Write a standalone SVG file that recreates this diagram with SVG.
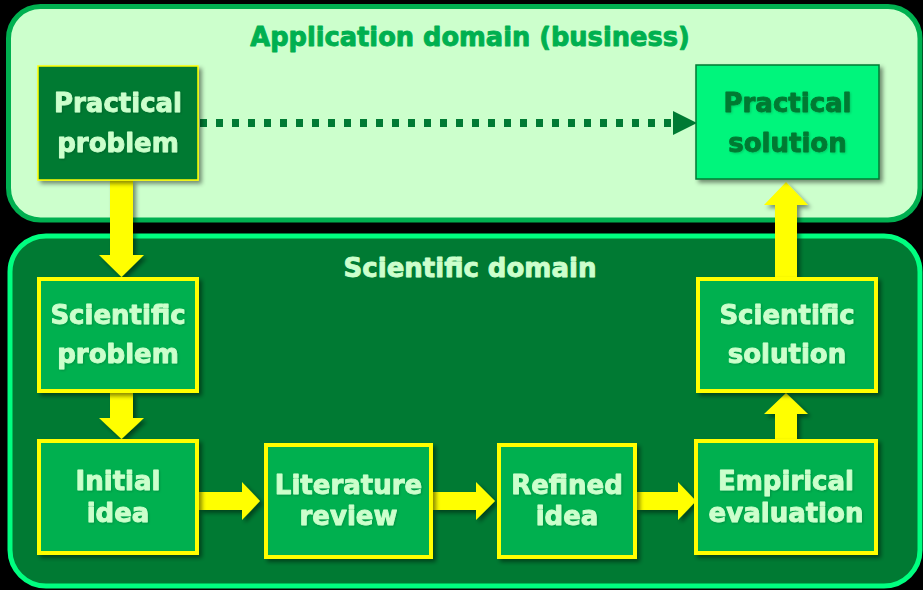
<svg xmlns="http://www.w3.org/2000/svg" width="923" height="590" viewBox="0 0 923 590">
  <style>
    .label { font-family: "DejaVu Sans", Verdana, sans-serif; font-weight: bold; font-size: 26px; text-anchor: middle; stroke-width: 0.9; stroke-linejoin: round; }
    .light { fill: #ccffcc; stroke: #ccffcc; }
    .dark { fill: #007a33; stroke: #007a33; }
    .title { font-size: 25.7px; fill: #00b050; stroke: #00b050; }
    .sci { fill: #00b050; stroke: #ffff00; stroke-width: 4; }
    .flow { fill: #ffff00; }
  </style>
  <defs>
    <filter id="shadow" x="-20%" y="-20%" width="140%" height="140%">
      <feDropShadow dx="3" dy="3" stdDeviation="2" flood-color="#000000" flood-opacity="0.45"/>
    </filter>
    <filter id="textshadow" x="-10%" y="-20%" width="120%" height="140%">
      <feDropShadow dx="1" dy="1" stdDeviation="0.8" flood-color="#000000" flood-opacity="0.18"/>
    </filter>
    <marker id="tri" viewBox="0 0 24 24" refX="0" refY="12" markerWidth="24" markerHeight="24" markerUnits="userSpaceOnUse" orient="auto">
      <path d="M0,0 L24,12 L0,24 Z" fill="#007a33"/>
    </marker>
  </defs>

  <rect width="923" height="590" fill="#000000"/>

  <!-- application domain panel -->
  <g id="application-domain">
    <rect x="8.5" y="6.5" width="911.5" height="213.5" rx="32" fill="#ccffcc" stroke="#00b050" stroke-width="5"/>
    <text class="label title" x="470" y="46">Application domain (business)</text>
  </g>

  <!-- scientific domain panel -->
  <g id="scientific-domain">
    <rect x="10" y="236" width="910" height="350" rx="36" fill="#007a33" stroke="#00ff80" stroke-width="5"/>
    <text class="label light" x="470" y="277">Scientific domain</text>
  </g>

  <!-- connectors -->
  <g id="connectors">
    <line x1="200" y1="123" x2="673" y2="123" stroke="#007a33" stroke-width="8" stroke-dasharray="7 9" marker-end="url(#tri)"/>
    <g filter="url(#shadow)">
      <polygon class="flow" points="110,180 133,180 133,255 144,255 121.5,277 99,255 110,255"/>
      <polygon class="flow" points="110,393 133,393 133,418 144,418 121.5,439 99,418 110,418"/>
      <polygon class="flow" points="199,492 242,492 242,482 260,501 242,520 242,510 199,510"/>
      <polygon class="flow" points="433,492 476,492 476,482 495,501 476,520 476,510 433,510"/>
      <polygon class="flow" points="637,492 678,492 678,482 696,501 678,520 678,510 637,510"/>
      <polygon class="flow" points="775,439 775,414 764,414 786,393 808,414 797,414 797,439"/>
      <polygon class="flow" points="775,277 775,205 764,205 786,182 808,205 797,205 797,277"/>
    </g>
  </g>

  <!-- nodes -->
  <g id="practical-problem">
    <rect x="38" y="66" width="160" height="114" fill="#007a33" stroke="#ffff00" stroke-width="1.5" filter="url(#shadow)"/>
    <g filter="url(#textshadow)">
      <text class="label light" x="118" y="112">Practical</text>
      <text class="label light" x="118" y="152">problem</text>
    </g>
  </g>

  <g id="practical-solution">
    <rect x="696" y="65" width="183" height="114" fill="#00f57c" stroke="#007a33" stroke-width="1.5" filter="url(#shadow)"/>
    <g filter="url(#textshadow)">
      <text class="label dark" x="787.5" y="112">Practical</text>
      <text class="label dark" x="787.5" y="152">solution</text>
    </g>
  </g>

  <g id="scientific-problem">
    <rect class="sci" x="39" y="279" width="158" height="112" filter="url(#shadow)"/>
    <g filter="url(#textshadow)">
      <text class="label light" x="118" y="324">Scientific</text>
      <text class="label light" x="118" y="363">problem</text>
    </g>
  </g>

  <g id="initial-idea">
    <rect class="sci" x="39" y="441" width="158" height="112" filter="url(#shadow)"/>
    <g filter="url(#textshadow)">
      <text class="label light" x="118" y="490">Initial</text>
      <text class="label light" x="118" y="522">idea</text>
    </g>
  </g>

  <g id="literature-review">
    <rect class="sci" x="266" y="445" width="165" height="112" filter="url(#shadow)"/>
    <g filter="url(#textshadow)">
      <text class="label light" x="348.5" y="494">Literature</text>
      <text class="label light" x="348.5" y="525">review</text>
    </g>
  </g>

  <g id="refined-idea">
    <rect class="sci" x="499" y="445" width="136" height="112" filter="url(#shadow)"/>
    <g filter="url(#textshadow)">
      <text class="label light" x="567" y="494">Refined</text>
      <text class="label light" x="567" y="525">idea</text>
    </g>
  </g>

  <g id="empirical-evaluation">
    <rect class="sci" x="696" y="441" width="180" height="112" filter="url(#shadow)"/>
    <g filter="url(#textshadow)">
      <text class="label light" x="786" y="490">Empirical</text>
      <text class="label light" x="786" y="522">evaluation</text>
    </g>
  </g>

  <g id="scientific-solution">
    <rect class="sci" x="698" y="279" width="178" height="112" filter="url(#shadow)"/>
    <g filter="url(#textshadow)">
      <text class="label light" x="787" y="324">Scientific</text>
      <text class="label light" x="787" y="363">solution</text>
    </g>
  </g>
</svg>
